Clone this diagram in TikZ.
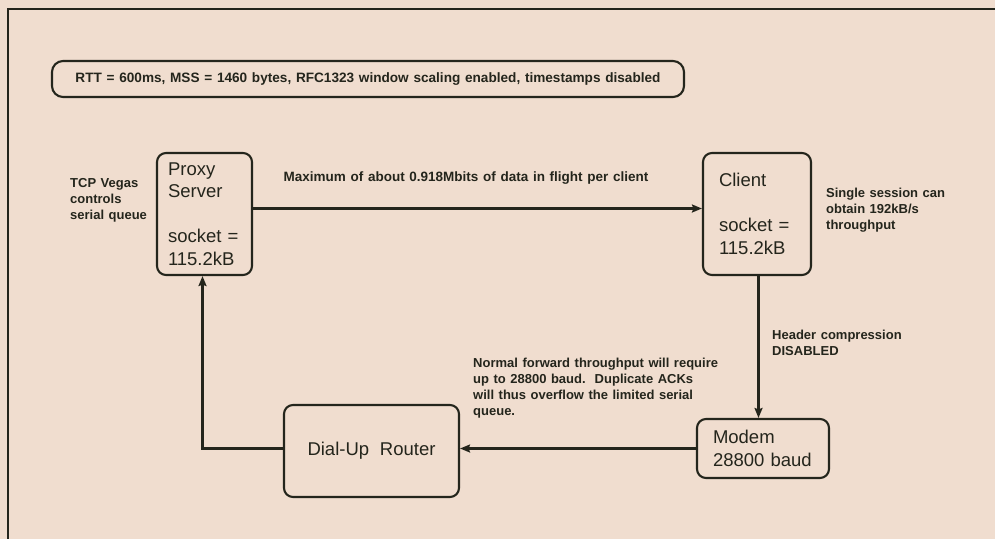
\documentclass[tikz,border=0pt]{standalone}
\usepackage{fontspec}
\setmainfont{Liberation Sans}
\newfontfamily\boxfont[WordSpace=2.1]{Liberation Sans}
\newfontfamily\notefont[WordSpace=1.25]{Liberation Sans Bold}
\usetikzlibrary{arrows.meta}
\definecolor{paper}{HTML}{F0DDCF}
\definecolor{ink}{HTML}{24251C}
\tikzset{
  every node/.style={text=ink},
  boxed/.style={draw=ink, line width=2.1pt, rounded corners=9pt, inner ysep=0pt,
    font=\boxfont\fontsize{18.5}{22.5}\selectfont},
  leftbox/.style={boxed, align=left},
  note/.style={inner sep=0pt, align=left, font=\notefont\fontsize{13}{16}\selectfont},
  conn/.style={draw=ink, line width=2.1pt, -{Stealth[length=10pt,width=8pt,inset=1.5pt]}},
}
\begin{document}
\begin{tikzpicture}[x=1pt, y=-1pt]
  % sheet and its frame
  \fill[paper] (0,0) rectangle (995,539);
  \useasboundingbox (0,0) rectangle (995,539);
  \draw[ink, line width=2.1pt] (995,9) -- (8,9) -- (8,539);

  % link parameters banner
  \node[boxed, minimum width=632pt, minimum height=36pt, rounded corners=11pt,
        font=\notefont\fontsize{13.6}{15}\selectfont] (params) at (368,79)
    {RTT = 600ms, MSS = 1460 bytes, RFC1323 window scaling enabled, timestamps disabled};

  % hosts
  \node[leftbox, text width=73pt, inner xsep=11pt, minimum height=122pt] (proxy) at (204.5,214)
    {Proxy\\Server\\[22.5pt]socket~=\\115.2kB};
  \node[leftbox, text width=76pt, inner xsep=16pt, minimum height=122pt] (client) at (757,214)
    {Client\\[22.5pt]socket~=\\115.2kB};
  \node[leftbox, text width=100pt, inner xsep=16pt, minimum height=59pt] (modem) at (763,448.5)
    {Modem\\28800 baud};
  \node[boxed, minimum width=175pt, minimum height=92pt] (router) at (371.5,451)
    {Dial-Up Router};

  % annotations
  \node[note, anchor=west] (vegas) at (70,200) {TCP Vegas\\controls\\serial queue};
  \node[note, font=\notefont\fontsize{13.5}{16}\selectfont] (flight) at (466,178)
    {Maximum of about 0.918Mbits of data in flight per client};
  \node[note, anchor=west] (session) at (826,210) {Single session can\\obtain 192kB/s\\throughput};
  \node[note, anchor=west] (header) at (772,343) {Header compression\\DISABLED};
  \node[note, anchor=west] (acks) at (473,388)
    {Normal forward throughput will require\\up to 28800 baud.\ \ Duplicate ACKs\\will thus overflow the limited serial\\queue.};

  % data path
  \draw[conn] ([yshift=5.5pt]proxy.east) -- ([yshift=5.5pt]client.west);
  \draw[conn] ([xshift=1.5pt]client.south) -- ([xshift=1.5pt]client.south |- modem.north);
  \draw[conn] (modem.west) -- (router.east |- modem.west);
  \draw[conn] (router.west |- modem.west) -| ([xshift=-2pt]proxy.south);
\end{tikzpicture}
\end{document}
